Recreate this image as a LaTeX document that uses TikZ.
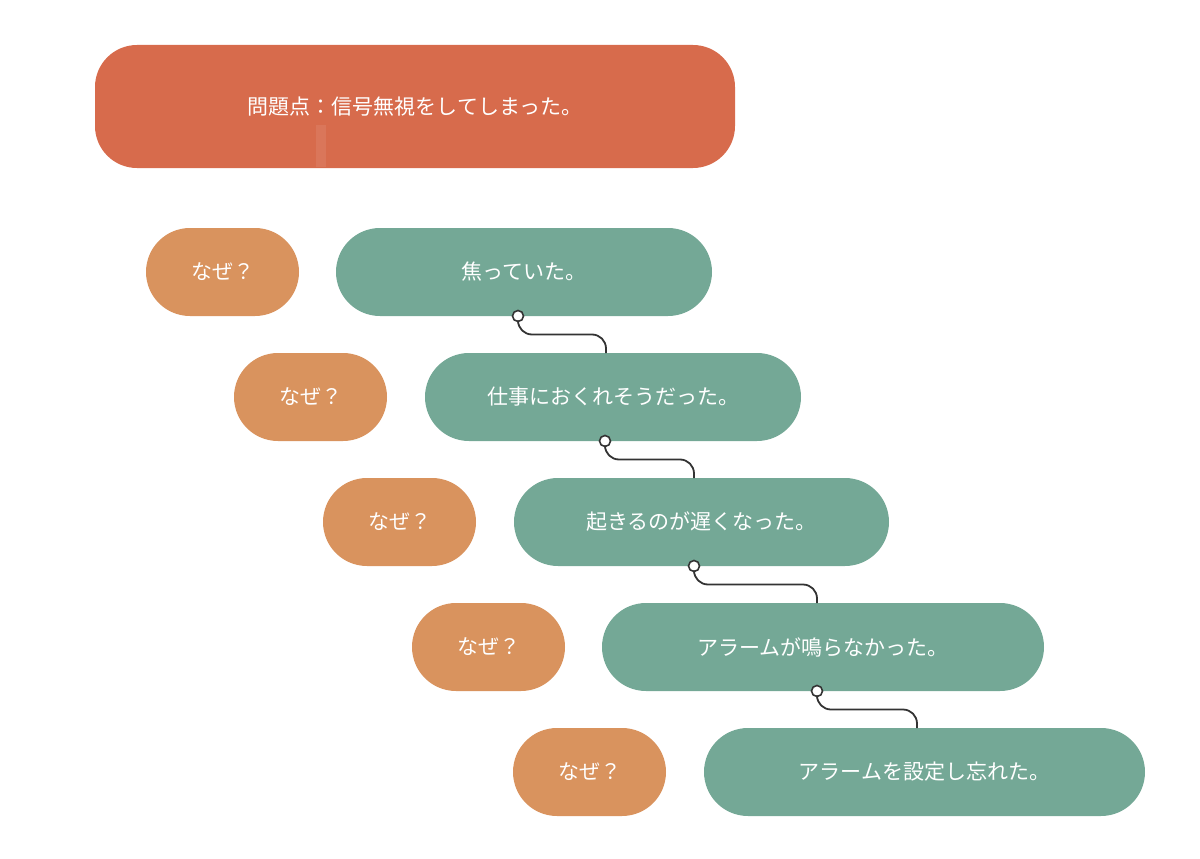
\documentclass[tikz,border=0pt]{standalone}
\usepackage{fontspec}
\setmainfont{Noto Sans CJK JP}
\usetikzlibrary{calc}
\definecolor{titlec}{HTML}{D76B4C}
\definecolor{greenc}{HTML}{74A896}
\definecolor{orangec}{HTML}{D9935E}
\definecolor{linec}{HTML}{333333}
\begin{document}
\begin{tikzpicture}[x=1pt,y=-1pt,
  pill/.style={rectangle,rounded corners=44pt,minimum height=88pt,inner sep=0pt,text=white,font=\fontsize{21}{25}\selectfont},
  greenbox/.style={pill,fill=greenc},
  whybox/.style={pill,fill=orangec,minimum width=153pt},
  dot/.style={circle,draw=linec,fill=white,line width=1.6pt,minimum size=11pt,inner sep=0pt},
  link/.style={draw=linec,line width=1.8pt,rounded corners=14pt}]
\useasboundingbox (0,0) rectangle (1200,859);
\node[pill,fill=titlec,minimum width=640pt,minimum height=123pt,rounded corners=42pt] (t) at (415,106.5) {問題点：信号無視をしてしまった。};
\fill[white,opacity=0.08] (316,125) rectangle (326,167);
\node[whybox] (w1) at (222.5,272) {なぜ？};
\node[whybox] (w2) at (310.5,397) {なぜ？};
\node[whybox] (w3) at (399.5,522) {なぜ？};
\node[whybox] (w4) at (488.5,647) {なぜ？};
\node[whybox] (w5) at (589.5,772) {なぜ？};
\node[greenbox,minimum width=376pt] (g1) at (524,272) {焦っていた。};
\node[greenbox,minimum width=376pt] (g2) at (613,397) {仕事におくれそうだった。};
\node[greenbox,minimum width=375pt] (g3) at (701.5,522) {起きるのが遅くなった。};
\node[greenbox,minimum width=442pt] (g4) at (823,647) {アラームが鳴らなかった。};
\node[greenbox,minimum width=441pt] (g5) at (924.5,772) {アラームを設定し忘れた。};
\coordinate (e1) at (606,353);
\coordinate (e2) at (694,478);
\coordinate (e3) at (817,603);
\coordinate (e4) at (917,728);
\node[dot] (d1) at (518,316) {};
\node[dot] (d2) at (605,441) {};
\node[dot] (d3) at (694,566) {};
\node[dot] (d4) at (817,691) {};
\draw[link] (d1.south) |- ($(d1)!0.5!(e1)+(0,0)$) -| (e1);
\draw[link] (d2.south) |- ($(d2)!0.5!(e2)$) -| (e2);
\draw[link] (d3.south) |- ($(d3)!0.5!(e3)$) -| (e3);
\draw[link] (d4.south) |- ($(d4)!0.5!(e4)$) -| (e4);
\end{tikzpicture}
\end{document}
